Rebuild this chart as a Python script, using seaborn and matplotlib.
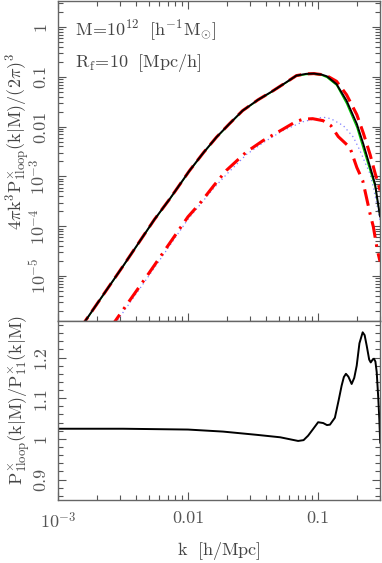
import numpy as np
import pandas as pd
import seaborn as sns
import matplotlib.pyplot as plt
from matplotlib.ticker import LogLocator, MultipleLocator, FixedLocator, FixedFormatter, NullFormatter

sns.set_style("ticks")
plt.rcParams.update({
    'font.family': 'cmr10',
    'mathtext.fontset': 'cm',
    'axes.formatter.use_mathtext': True,
    'font.size': 13,
    'text.color': '#444444',
    'axes.labelcolor': '#444444',
    'xtick.color': '#555555',
    'ytick.color': '#555555',
    'axes.edgecolor': '#666666',
    'axes.linewidth': 1.0,
})

# upper panel: log10 k and log10 of 4 pi k^3 P / (2 pi)^3
log_k_top = [-2.83, -2.5, -2.26, -2.14, -1.99, -1.88, -1.78, -1.68, -1.58, -1.46,
             -1.345, -1.25, -1.165, -1.09, -1.03, -0.97, -0.93, -0.856, -0.779,
             -0.70, -0.65, -0.598, -0.56, -0.521]
p_1loop = [-6.05, -4.80, -3.87, -3.45, -2.89, -2.52, -2.21, -1.94, -1.68, -1.46,
           -1.28, -1.12, -0.975, -0.94, -0.935, -0.955, -0.99, -1.146, -1.48,
           -1.946, -2.35, -2.81, -3.15, -3.81]
p_dashed = [-6.05, -4.80, -3.87, -3.45, -2.89, -2.52, -2.21, -1.94, -1.68, -1.46,
            -1.28, -1.12, -0.975, -0.94, -0.935, -0.955, -0.98, -1.09, -1.36,
            -1.76, -2.13, -2.56, -2.93, -3.28]
p_11 = [-6.06, -4.81, -3.88, -3.46, -2.90, -2.53, -2.22, -1.95, -1.69, -1.47,
        -1.29, -1.13, -0.985, -0.955, -0.95, -0.97, -1.015, -1.17, -1.54,
        -2.02, -2.45, -2.89, -3.20, -3.80]

log_k_low = [-2.6, -2.3, -2.0, -1.911, -1.80, -1.705, -1.551, -1.422, -1.268, -1.17,
             -1.113, -1.04, -0.96, -0.90, -0.843, -0.753, -0.70, -0.655, -0.598,
             -0.573, -0.542, -0.521]
p_dashdot = [-6.05, -4.94, -3.81, -3.55, -3.18, -2.88, -2.51, -2.28, -2.05, -1.90,
             -1.85, -1.84, -1.88, -1.98, -2.20, -2.42, -2.82, -3.08, -3.75,
             -4.01, -4.48, -4.71]
log_k_dot = [-2.6, -2.3, -2.0, -1.80, -1.70, -1.55, -1.42, -1.27, -1.113, -1.0,
             -0.959, -0.90, -0.804, -0.727, -0.676, -0.637, -0.598, -0.573, -0.56, -0.521]
p_dotted = [-6.1, -4.99, -3.86, -3.23, -2.95, -2.56, -2.32, -2.08, -1.90, -1.83,
            -1.81, -1.84, -1.98, -2.21, -2.48, -2.72, -2.95, -3.21, -3.38, -3.9]

# lower panel: ratio P_1loop / P_11
log_k_ratio = [-3.0, -2.5, -2.0, -1.73, -1.47, -1.29, -1.152, -1.11, -1.075, -1.035,
               -0.998, -0.959, -0.93, -0.907, -0.869, -0.84, -0.817, -0.80, -0.784,
               -0.765, -0.740, -0.72, -0.701, -0.68, -0.655, -0.64, -0.624, -0.605,
               -0.593, -0.578, -0.568, -0.557, -0.547, -0.535, -0.527, -0.52]
ratio = [1.025, 1.025, 1.023, 1.018, 1.010, 1.004, 0.995, 0.997, 1.008, 1.025,
         1.041, 1.039, 1.034, 1.035, 1.052, 1.095, 1.131, 1.152, 1.160,
         1.153, 1.135, 1.150, 1.180, 1.235, 1.262, 1.255, 1.229, 1.195,
         1.188, 1.195, 1.197, 1.190, 1.164, 1.100, 1.049, 0.990]

top = pd.DataFrame({'k': 10 ** np.array(log_k_top), 'loop': 10 ** np.array(p_1loop),
                    'dashed': 10 ** np.array(p_dashed), 'lin': 10 ** np.array(p_11)})
low = pd.DataFrame({'k': 10 ** np.array(log_k_low), 'dashdot': 10 ** np.array(p_dashdot)})
dot = pd.DataFrame({'k': 10 ** np.array(log_k_dot), 'dotted': 10 ** np.array(p_dotted)})
rat = pd.DataFrame({'k': 10 ** np.array(log_k_ratio), 'ratio': ratio})

fig = plt.figure(figsize=(3.82, 5.63), dpi=100)
ax1 = fig.add_axes([0.152, 0.430, 0.843, 0.568])
ax2 = fig.add_axes([0.152, 0.112, 0.843, 0.318])

for ax in (ax1, ax2):
    ax.set_xscale('log')
    ax.set_xlim(1e-3, 10 ** -0.521)
ax1.set_yscale('log')
ax1.set_ylim(10 ** -5.9, 10 ** 0.52)
ax2.set_ylim(0.85, 1.29)

sns.lineplot(data=dot, x='k', y='dotted', ax=ax1, sort=False, color='#7f7fff',
             lw=0.9, linestyle=(0, (1, 2.5)))
sns.lineplot(data=low, x='k', y='dashdot', ax=ax1, sort=False, color='#ff0000',
             lw=2.2, linestyle=(0, (5.5, 2.2, 0.8, 2.2)))
sns.lineplot(data=top, x='k', y='lin', ax=ax1, sort=False, color='#00cc00', lw=0.9)
sns.lineplot(data=top, x='k', y='dashed', ax=ax1, sort=False, color='#ff0000',
             lw=2.2, linestyle=(0, (4.5, 2.2)))
sns.lineplot(data=top, x='k', y='loop', ax=ax1, sort=False, color='black', lw=1.4)
sns.lineplot(data=rat, x='k', y='ratio', ax=ax2, sort=False, color='black', lw=1.4)

# ticks
for ax in (ax1, ax2):
    ax.xaxis.set_major_locator(FixedLocator([1e-3, 1e-2, 1e-1]))
    ax.xaxis.set_minor_locator(LogLocator(base=10, subs=np.arange(2, 10), numticks=50))
    ax.xaxis.set_minor_formatter(NullFormatter())
    ax.tick_params(which='major', direction='in', length=6, width=0.8, labelsize=13)
    ax.tick_params(which='minor', direction='in', length=3.5, width=0.8)
    ax.tick_params(axis='y', which='both', left=True, right=True, labelrotation=90, pad=7)
ax1.tick_params(axis='x', which='both', top=True, bottom=True, labelbottom=False)
ax2.tick_params(axis='x', which='both', top=False, bottom=True, pad=8)
ax2.xaxis.set_major_formatter(FixedFormatter([r'$10^{-3}$', '0.01', '0.1']))

ax1.yaxis.set_major_locator(FixedLocator([1e-5, 1e-4, 1e-3, 1e-2, 1e-1, 1]))
ax1.yaxis.set_major_formatter(FixedFormatter([r'$10^{-5}$', r'$10^{-4}$', r'$10^{-3}$',
                                              '0.01', '0.1', '1']))
ax1.yaxis.set_minor_locator(LogLocator(base=10, subs=np.arange(2, 10), numticks=50))
ax1.yaxis.set_minor_formatter(NullFormatter())
ax2.yaxis.set_major_locator(FixedLocator([0.9, 1.0, 1.1, 1.2]))
ax2.yaxis.set_minor_locator(MultipleLocator(0.02))
ax2.yaxis.set_major_formatter(FixedFormatter(['0.9', '1', '1.1', '1.2']))
for ax in (ax1, ax2):
    for lab in ax.get_yticklabels():
        lab.set_va('center')

ax1.set_xlabel('')
ax1.set_ylabel(r'$4\pi\mathrm{k^3P^{\times}_{1loop}(k|M)/(2\pi)^3}$', fontsize=13)
ax1.yaxis.set_label_coords(-0.078, 0.56)
ax2.set_ylabel(r'$\mathrm{P^{\times}_{1loop}(k|M)/P^{\times}_{11}(k|M)}$', fontsize=13)
ax2.yaxis.set_label_coords(-0.078, 0.56)
ax2.set_xlabel(r'$\mathrm{k\ \ [h/Mpc]}$', fontsize=13)
ax2.xaxis.set_label_coords(0.5, -0.225)

ax1.text(0.053, 0.909, r'$\mathrm{M\!=\!10^{12}\ \ [h^{-1}M_{\odot}]}$', transform=ax1.transAxes,
         va='center', ha='left', fontsize=13)
ax1.text(0.053, 0.806, r'$\mathrm{R_f\!=\!10\ \ [Mpc/h]}$', transform=ax1.transAxes,
         va='center', ha='left', fontsize=13)

fig.savefig('out.png', dpi=100)
